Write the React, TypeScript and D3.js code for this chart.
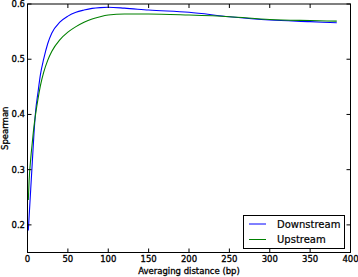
import React from "react";
import * as d3 from "d3";

const distances = [1, 2, 4, 6, 8, 10, 13, 16, 20, 25, 30, 40, 50, 60, 70, 80, 90, 100, 120, 150, 200, 250, 300, 350, 383];
const downstream = [0.19, 0.215, 0.265, 0.315, 0.365, 0.405, 0.44, 0.472, 0.5, 0.528, 0.547, 0.567, 0.578, 0.585, 0.589, 0.592, 0.5935, 0.594, 0.5925, 0.589, 0.585, 0.577, 0.571, 0.568, 0.566];
const upstream = [0.245, 0.28, 0.32, 0.35, 0.378, 0.4, 0.428, 0.452, 0.476, 0.498, 0.514, 0.535, 0.549, 0.559, 0.567, 0.573, 0.577, 0.58, 0.582, 0.582, 0.58, 0.577, 0.572, 0.57, 0.569];
const xTicks = [0, 50, 100, 150, 200, 250, 300, 350, 400];
const yTicks = [0.2, 0.3, 0.4, 0.5, 0.6];
const seriesNames = ["Downstream", "Upstream"];
const seriesColors = ["#0000ff", "#008000"];

const W = 358, H = 277;
const L = 27.5, R = 350.5, T = 4, B = 252.5;

export default function App() {
  const x = d3.scaleLinear().domain([0, 400]).range([L, R]);
  const y = d3.scaleLinear().domain([0.15, 0.6]).range([B, T]);
  const line = d3.line<number>().x((_, i) => x(distances[i])).y((v) => y(v)).curve(d3.curveMonotoneX);
  const series = [downstream, upstream];
  const font = "DejaVu Sans, sans-serif";
  const txt = { fontFamily: font, fill: "#000", stroke: "#000", strokeWidth: 0.3 } as const;
  return (
    <svg width={W} height={H} style={{ position: "absolute", left: 0, top: 0, background: "#fff" }}>
      <rect x={0} y={0} width={W} height={H} fill="#fff" />
      {series.map((s, i) => (
        <path key={i} d={line(s) || ""} fill="none" stroke={seriesColors[i]} strokeWidth={1.1} />
      ))}
      <rect x={L} y={T} width={R - L} height={B - T} fill="none" stroke="#000" strokeWidth={1} />
      {xTicks.map((t) => (
        <g key={"x" + t}>
          <line x1={x(t)} x2={x(t)} y1={B} y2={B - 4} stroke="#000" />
          <line x1={x(t)} x2={x(t)} y1={T} y2={T + 4} stroke="#000" />
          <text x={x(t)} y={262} fontSize={8.5} textAnchor="middle" {...txt}>{t}</text>
        </g>
      ))}
      {yTicks.map((t) => (
        <g key={"y" + t}>
          <line x1={L} x2={L + 4} y1={y(t)} y2={y(t)} stroke="#000" />
          <line x1={R} x2={R - 4} y1={y(t)} y2={y(t)} stroke="#000" />
          <text x={25} y={y(t)} dy="0.35em" fontSize={8.5} textAnchor="end" {...txt}>{t.toFixed(1)}</text>
        </g>
      ))}
      <text x={(L + R) / 2} y={274} fontSize={8.5} textAnchor="middle" {...txt}>Averaging distance (bp)</text>
      <text transform={`translate(8,${(T + B) / 2}) rotate(-90)`} fontSize={8.5} textAnchor="middle" {...txt}>Spearman</text>
      <g>
        <rect x={243.5} y={215.5} width={101} height={33} fill="#fff" stroke="#000" strokeWidth={1} />
        {seriesNames.map((n, i) => (
          <g key={n}>
            <line x1={249} x2={266} y1={224 + i * 15.5} y2={224 + i * 15.5} stroke={seriesColors[i]} strokeWidth={1} />
            <text x={277} y={224 + i * 15.5} dy="0.35em" fontSize={10} {...txt} strokeWidth={0.2}>{n}</text>
          </g>
        ))}
      </g>
    </svg>
  );
}
